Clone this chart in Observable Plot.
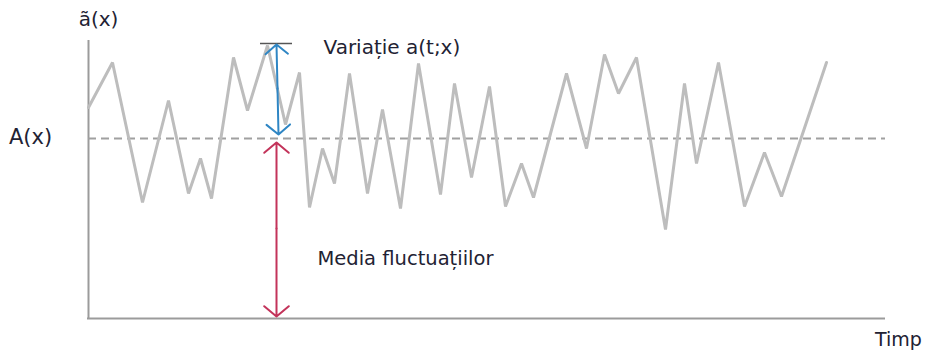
<!DOCTYPE html>
<html>
<head>
<meta charset="utf-8">
<script src="https://cdn.jsdelivr.net/npm/d3@7"></script>
<script src="https://cdn.jsdelivr.net/npm/@observablehq/plot@0.6"></script>
<style>
  html, body { margin: 0; padding: 0; background: #fff; }
  #chart svg { display: block; font-family: "DejaVu Sans", Verdana, sans-serif; }
</style>
</head>
<body>
<div id="chart"></div>
<script>
// Time (abscissa) and fluctuating value ã(x)
const time = [0, 24, 54, 80, 100, 112, 123, 145, 159, 179, 197, 211, 221, 234, 246, 261, 279, 294, 312, 330,
              352, 366, 383, 401, 417, 433, 445, 478, 498, 516, 530, 548, 577, 596, 608, 630, 656, 676, 693, 738];
const values = [211, 256, 116, 218, 125, 160, 120, 261, 208, 273, 194, 246, 111, 170, 135, 245, 125, 209, 110, 255,
                124, 235, 141, 232, 112, 155, 121, 245, 170, 264, 225, 261, 89, 235, 155, 256, 112, 166, 122, 256];

const meanValue = 180;      // A(x)
const tMax = 797;           // end of time axis
const yMax = 278;           // top of value axis
const peakValue = 274;      // top of variation arrow
const arrowTime = 188;      // time at which arrows are drawn

const labels = {
  yAxis: "ã(x)",
  mean: "A(x)",
  xAxis: "Timp",
  variation: "Variație a(t;x)",
  meanFluct: "Media fluctuațiilor"
};

const series = time.map((t, i) => ({t, a: values[i]}));

const blue = "#2f86c4";
const red = "#c3335a";
const textColor = "#222233";

const chart = Plot.plot({
  width: 927,
  height: 350,
  marginLeft: 88,
  marginRight: 42,
  marginTop: 40,
  marginBottom: 32,
  x: {domain: [0, tMax], axis: null},
  y: {domain: [0, yMax], axis: null},
  style: {fontFamily: "DejaVu Sans, Verdana, sans-serif", background: "#fff"},
  marks: [
    // axes
    Plot.ruleX([0], {y1: 0, y2: yMax, stroke: "#9b9b9b", strokeWidth: 2}),
    Plot.ruleY([0], {x1: -1, x2: tMax, stroke: "#9b9b9b", strokeWidth: 2}),
    // mean dashed line
    Plot.ruleY([meanValue], {x1: 0, x2: tMax, stroke: "#a0a0a0", strokeWidth: 2, strokeDasharray: "8,5"}),
    // fluctuating series
    Plot.line(series, {x: "t", y: "a", stroke: "#bdbdbd", strokeWidth: 3, strokeLinejoin: "miter"}),
    // cap at top of variation
    Plot.ruleY([peakValue + 1], {x1: arrowTime - 16, x2: arrowTime + 16, stroke: "#555", strokeWidth: 1.5}),
    // blue double arrow (variation)
    Plot.arrow([
      {x1: arrowTime + 1, y1: 230, x2: arrowTime, y2: peakValue},
      {x1: arrowTime + 1, y1: 230, x2: arrowTime + 2, y2: meanValue + 4}
    ], {x1: "x1", y1: "y1", x2: "x2", y2: "y2", stroke: blue, strokeWidth: 2, headLength: 12, headAngle: 100}),
    // red double arrow (mean)
    Plot.arrow([
      {x1: arrowTime, y1: 90, x2: arrowTime, y2: meanValue - 4},
      {x1: arrowTime, y1: 90, x2: arrowTime, y2: 2}
    ], {x1: "x1", y1: "y1", x2: "x2", y2: "y2", stroke: red, strokeWidth: 2, headLength: 12, headAngle: 100}),
    // labels
    Plot.text([labels.yAxis], {x: 10, y: 299, fontSize: 20, fill: textColor, textAnchor: "middle"}),
    Plot.text([labels.mean], {x: -58, y: 181, fontSize: 21, fill: textColor, textAnchor: "middle"}),
    Plot.text([labels.xAxis], {x: 810, y: -21, fontSize: 19, fill: textColor, textAnchor: "middle"}),
    Plot.text([labels.variation], {x: 235, y: 271, fontSize: 20, fill: textColor, textAnchor: "start"}),
    Plot.text([labels.meanFluct], {x: 229, y: 60, fontSize: 19.5, fill: textColor, textAnchor: "start"})
  ]
});

document.getElementById("chart").appendChild(chart);
</script>
</body>
</html>
